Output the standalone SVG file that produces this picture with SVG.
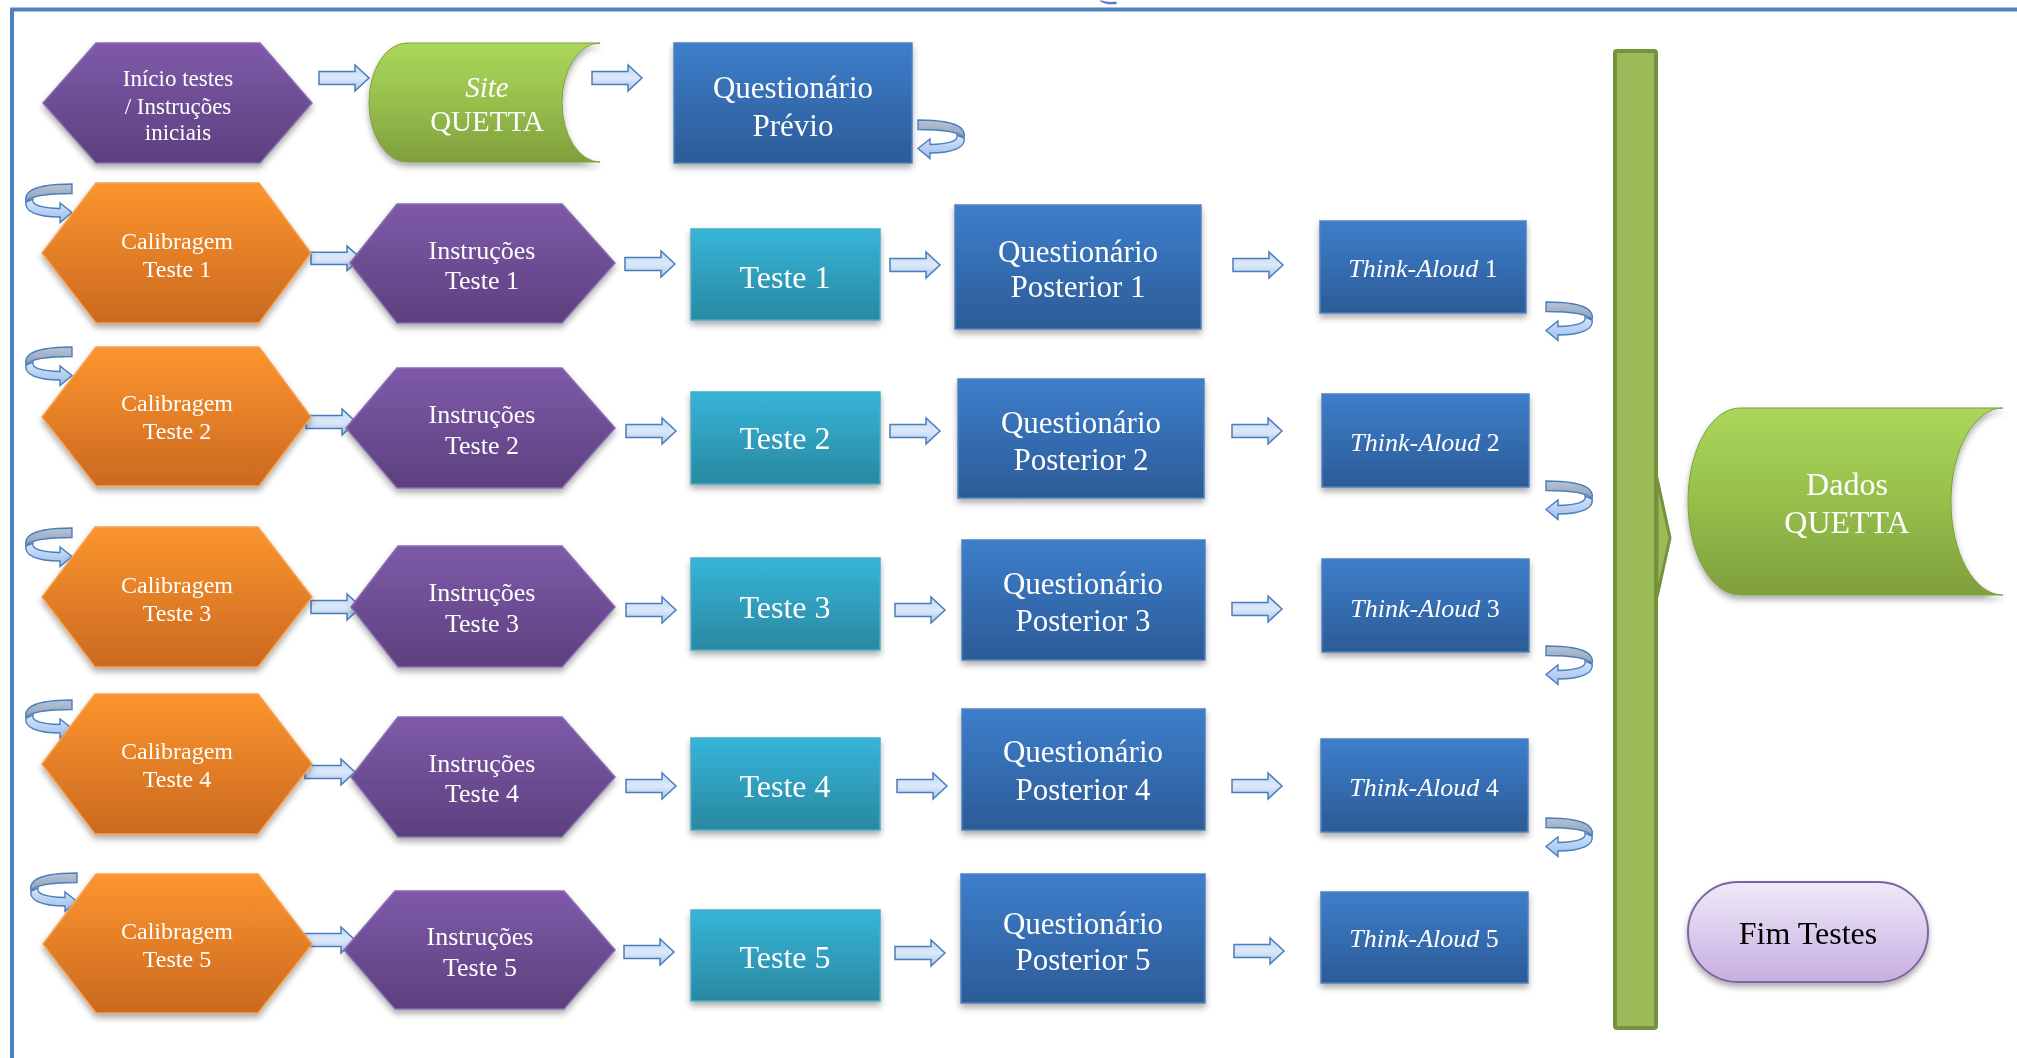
<svg xmlns="http://www.w3.org/2000/svg" width="2017" height="1058" viewBox="0 0 2017 1058">
  <style>
    .lbl { font-family: "Liberation Serif", "Times New Roman", serif; fill: #ffffff; text-anchor: middle; }
    .dark { fill: #000000; }
    .it { font-style: italic; }
    .s23 { font-size: 23px; }
    .s24 { font-size: 24px; }
    .s26 { font-size: 26px; }
    .s29 { font-size: 29px; }
    .s31 { font-size: 31px; }
    .s32 { font-size: 32px; }
    .hexP { fill: url(#gPurple); stroke: #8A6DB0; stroke-width: 1.5; }
    .hexO { fill: url(#gOrange); stroke: #F8A04E; stroke-width: 1.5; }
    .boxT { fill: url(#gTeal); stroke: #4BACC6; stroke-width: 1.5; }
    .boxB { fill: url(#gBlue); stroke: #4F81BD; stroke-width: 1.5; }
    .store { fill: url(#gGreen); stroke: #7FA03F; stroke-width: 1; }
    .arrow { fill: url(#gArrow); stroke: #4A7EBB; stroke-width: 1.5; stroke-linejoin: miter; }
    .back { fill: url(#gBack); stroke: #4A7EBB; stroke-width: 1.4; }
    .front { fill: url(#gFront); stroke: #4A7EBB; stroke-width: 1.4; }
    .frame { stroke: #4F81BD; stroke-width: 4; fill: none; }
    .node { filter: url(#shadow); }
  </style>
  <defs>
    <linearGradient id="gPurple" x1="0" y1="0" x2="0" y2="1">
      <stop offset="0" stop-color="#7E5AA9"/>
      <stop offset="1" stop-color="#5C407E"/>
    </linearGradient>
    <linearGradient id="gOrange" x1="0" y1="0" x2="0" y2="1">
      <stop offset="0" stop-color="#FC952E"/>
      <stop offset="1" stop-color="#CB6920"/>
    </linearGradient>
    <linearGradient id="gTeal" x1="0" y1="0" x2="0" y2="1">
      <stop offset="0" stop-color="#36B5D8"/>
      <stop offset="1" stop-color="#2988A1"/>
    </linearGradient>
    <linearGradient id="gBlue" x1="0" y1="0" x2="0" y2="1">
      <stop offset="0" stop-color="#3D7ECB"/>
      <stop offset="1" stop-color="#2C5B97"/>
    </linearGradient>
    <linearGradient id="gGreen" x1="0" y1="0" x2="0" y2="1">
      <stop offset="0" stop-color="#AAD75B"/>
      <stop offset="0.5" stop-color="#96BF4B"/>
      <stop offset="1" stop-color="#7F9F3D"/>
    </linearGradient>
    <linearGradient id="gLilac" x1="0" y1="0" x2="0" y2="1">
      <stop offset="0" stop-color="#F0EAF8"/>
      <stop offset="1" stop-color="#C6AFE0"/>
    </linearGradient>
    <linearGradient id="gArrow" x1="0" y1="0" x2="0" y2="1">
      <stop offset="0" stop-color="#C3D7F3"/>
      <stop offset="0.5" stop-color="#DDE9FA"/>
      <stop offset="1" stop-color="#A8C5EE"/>
    </linearGradient>
    <linearGradient id="gBack" x1="0" y1="0" x2="0" y2="1">
      <stop offset="0" stop-color="#B8C3D4"/>
      <stop offset="1" stop-color="#8C9FBC"/>
    </linearGradient>
    <linearGradient id="gFront" x1="0" y1="0" x2="0" y2="1">
      <stop offset="0" stop-color="#D8E6F9"/>
      <stop offset="1" stop-color="#9BBDED"/>
    </linearGradient>
    <filter id="shadow" x="-10%" y="-10%" width="125%" height="135%">
      <feDropShadow dx="0" dy="4" stdDeviation="3" flood-color="#000000" flood-opacity="0.33"/>
    </filter>
    <!-- straight block arrow, 50 x 26 -->
    <path id="blockArrow" class="arrow" d="M0,6.5 H36 V0 L50,13 L36,26 V19.5 H0 Z"/>
    <!-- curved u-turn arrow, 46 x 39, head pointing left -->
    <g id="uturn">
      <path class="back" d="M0,0 C16,0 36,2 43,8 C46,11 47,14 46,18 C43,13 30,9.5 0,9.5 Z"/>
      <path class="front" d="M39,15 C41,21 30,24 12,24.5 L12,19 L0,28.5 L12,38.5 L12,33 C36,33 48,27 46,18 Z"/>
    </g>
  </defs>

  <rect width="2017" height="1058" fill="#ffffff"/>

  <!-- page frame -->
  <path class="frame" d="M12,1058 V9.5 H2017"/>
  <path d="M1099,0.5 C1104,4 1110,5 1117,4 L1116,1.5 C1110,2.5 1105,1.5 1102,0.5 Z" fill="#4F81BD"/>

  <!-- collector bar -->
  <g id="bar">
    <path d="M1657,478 L1670,538 L1657,597 Z" fill="#9BBB59" stroke="#76923C" stroke-width="3"/>
    <rect x="1615" y="51" width="41" height="977" rx="2" fill="#9BBB59" stroke="#76923C" stroke-width="4"/>
  </g>

  <g id="connectors">
    <!-- row 0 -->
    <use href="#blockArrow" transform="translate(319,65)"/>
    <use href="#blockArrow" transform="translate(592,65)"/>
    <use href="#uturn" transform="translate(918,120)"/>
    <!-- row 1 -->
    <use href="#uturn" transform="translate(72,184) scale(-1,1)"/>
    <use href="#blockArrow" transform="translate(311,246) scale(1,0.95)"/>
    <use href="#blockArrow" transform="translate(625,251)"/>
    <use href="#blockArrow" transform="translate(890,252)"/>
    <use href="#blockArrow" transform="translate(1233,252)"/>
    <use href="#uturn" transform="translate(1546,302)"/>
    <!-- row 2 -->
    <use href="#uturn" transform="translate(72,347) scale(-1,1)"/>
    <use href="#blockArrow" transform="translate(306,409)"/>
    <use href="#blockArrow" transform="translate(626,418)"/>
    <use href="#blockArrow" transform="translate(890,418)"/>
    <use href="#blockArrow" transform="translate(1232,418)"/>
    <use href="#uturn" transform="translate(1546,481)"/>
    <!-- row 3 -->
    <use href="#uturn" transform="translate(72,528) scale(-1,1)"/>
    <use href="#blockArrow" transform="translate(311,594)"/>
    <use href="#blockArrow" transform="translate(626,597)"/>
    <use href="#blockArrow" transform="translate(895,597)"/>
    <use href="#blockArrow" transform="translate(1232,596)"/>
    <use href="#uturn" transform="translate(1546,646)"/>
    <!-- row 4 -->
    <use href="#uturn" transform="translate(72,700) scale(-1,1)"/>
    <use href="#blockArrow" transform="translate(305,759)"/>
    <use href="#blockArrow" transform="translate(626,773)"/>
    <use href="#blockArrow" transform="translate(897,773)"/>
    <use href="#blockArrow" transform="translate(1232,773)"/>
    <use href="#uturn" transform="translate(1546,818)"/>
    <!-- row 5 -->
    <use href="#uturn" transform="translate(77,873) scale(-1,1)"/>
    <use href="#blockArrow" transform="translate(305,927)"/>
    <use href="#blockArrow" transform="translate(624,939)"/>
    <use href="#blockArrow" transform="translate(895,940)"/>
    <use href="#blockArrow" transform="translate(1234,938)"/>
  </g>

  <!-- row 0 -->
  <g id="inicio" class="node">
    <polygon class="hexP" points="43,103 96,43 260,43 312,103 260,163 96,163"/>
    <text class="lbl s23" x="178" y="86">Início testes</text>
    <text class="lbl s23" x="178" y="114">/ Instruções</text>
    <text class="lbl s23" x="178" y="140">iniciais</text>
  </g>
  <g id="site-quetta" class="node">
    <path class="store" d="M407,43 H600 A38,59.5 0 0 0 600,162 H407 A38,59.5 0 0 1 407,43 Z"/>
    <text class="lbl s29 it" x="487" y="97">Site</text>
    <text class="lbl s29" x="487" y="131">QUETTA</text>
  </g>
  <g id="questionario-previo" class="node">
    <rect class="boxB" x="674" y="43" width="238" height="120"/>
    <text class="lbl s31" x="793" y="98">Questionário</text>
    <text class="lbl s31" x="793" y="136">Prévio</text>
  </g>

  <!-- row 1 -->
  <g id="calibragem-1" class="node">
    <polygon class="hexO" points="42,253 96,183 259,183 311,253 259,323 96,323"/>
    <text class="lbl s24" x="177" y="249">Calibragem</text>
    <text class="lbl s24" x="177" y="277">Teste 1</text>
  </g>
  <g id="instrucoes-1" class="node">
    <polygon class="hexP" points="350,263 397,204 562,204 615,263 562,323 397,323"/>
    <text class="lbl s26" x="482" y="259">Instruções</text>
    <text class="lbl s26" x="482" y="289">Teste 1</text>
  </g>
  <g id="teste-1" class="node">
    <rect class="boxT" x="691" y="229" width="189" height="91"/>
    <text class="lbl s32" x="785" y="288">Teste 1</text>
  </g>
  <g id="posterior-1" class="node">
    <rect class="boxB" x="955" y="205" width="246" height="124"/>
    <text class="lbl s31" x="1078" y="262">Questionário</text>
    <text class="lbl s31" x="1078" y="297">Posterior 1</text>
  </g>
  <g id="think-aloud-1" class="node">
    <rect class="boxB" x="1320" y="221" width="206" height="92"/>
    <text class="lbl s26" x="1423" y="277"><tspan class="it">Think-Aloud</tspan> 1</text>
  </g>

  <!-- row 2 -->
  <g id="calibragem-2" class="node">
    <polygon class="hexO" points="42,417 96,347 259,347 311,417 259,486 96,486"/>
    <text class="lbl s24" x="177" y="411">Calibragem</text>
    <text class="lbl s24" x="177" y="439">Teste 2</text>
  </g>
  <g id="instrucoes-2" class="node">
    <polygon class="hexP" points="346,428 397,368 562,368 615,428 562,488 397,488"/>
    <text class="lbl s26" x="482" y="423">Instruções</text>
    <text class="lbl s26" x="482" y="454">Teste 2</text>
  </g>
  <g id="teste-2" class="node">
    <rect class="boxT" x="691" y="392" width="189" height="92"/>
    <text class="lbl s32" x="785" y="449">Teste 2</text>
  </g>
  <g id="posterior-2" class="node">
    <rect class="boxB" x="958" y="379" width="246" height="119"/>
    <text class="lbl s31" x="1081" y="433">Questionário</text>
    <text class="lbl s31" x="1081" y="470">Posterior 2</text>
  </g>
  <g id="think-aloud-2" class="node">
    <rect class="boxB" x="1322" y="394" width="207" height="93"/>
    <text class="lbl s26" x="1425" y="451"><tspan class="it">Think-Aloud</tspan> 2</text>
  </g>

  <!-- row 3 -->
  <g id="calibragem-3" class="node">
    <polygon class="hexO" points="42,597 95,527 258,527 312,597 258,667 95,667"/>
    <text class="lbl s24" x="177" y="593">Calibragem</text>
    <text class="lbl s24" x="177" y="621">Teste 3</text>
  </g>
  <g id="instrucoes-3" class="node">
    <polygon class="hexP" points="351,607 398,546 562,546 615,607 562,667 398,667"/>
    <text class="lbl s26" x="482" y="601">Instruções</text>
    <text class="lbl s26" x="482" y="632">Teste 3</text>
  </g>
  <g id="teste-3" class="node">
    <rect class="boxT" x="691" y="558" width="189" height="92"/>
    <text class="lbl s32" x="785" y="618">Teste 3</text>
  </g>
  <g id="posterior-3" class="node">
    <rect class="boxB" x="962" y="540" width="243" height="120"/>
    <text class="lbl s31" x="1083" y="594">Questionário</text>
    <text class="lbl s31" x="1083" y="631">Posterior 3</text>
  </g>
  <g id="think-aloud-3" class="node">
    <rect class="boxB" x="1322" y="559" width="207" height="93"/>
    <text class="lbl s26" x="1425" y="617"><tspan class="it">Think-Aloud</tspan> 3</text>
  </g>

  <!-- row 4 -->
  <g id="calibragem-4" class="node">
    <polygon class="hexO" points="42,764 95,694 258,694 312,764 258,834 95,834"/>
    <text class="lbl s24" x="177" y="759">Calibragem</text>
    <text class="lbl s24" x="177" y="787">Teste 4</text>
  </g>
  <g id="instrucoes-4" class="node">
    <polygon class="hexP" points="351,777 398,717 562,717 615,777 562,837 398,837"/>
    <text class="lbl s26" x="482" y="772">Instruções</text>
    <text class="lbl s26" x="482" y="802">Teste 4</text>
  </g>
  <g id="teste-4" class="node">
    <rect class="boxT" x="691" y="738" width="189" height="92"/>
    <text class="lbl s32" x="785" y="797">Teste 4</text>
  </g>
  <g id="posterior-4" class="node">
    <rect class="boxB" x="962" y="709" width="243" height="121"/>
    <text class="lbl s31" x="1083" y="762">Questionário</text>
    <text class="lbl s31" x="1083" y="800">Posterior 4</text>
  </g>
  <g id="think-aloud-4" class="node">
    <rect class="boxB" x="1321" y="739" width="207" height="93"/>
    <text class="lbl s26" x="1424" y="796"><tspan class="it">Think-Aloud</tspan> 4</text>
  </g>

  <!-- row 5 -->
  <g id="calibragem-5" class="node">
    <polygon class="hexO" points="43,944 96,874 258,874 312,944 258,1013 96,1013"/>
    <text class="lbl s24" x="177" y="939">Calibragem</text>
    <text class="lbl s24" x="177" y="967">Teste 5</text>
  </g>
  <g id="instrucoes-5" class="node">
    <polygon class="hexP" points="344,950 395,891 564,891 615,950 564,1009 395,1009"/>
    <text class="lbl s26" x="480" y="945">Instruções</text>
    <text class="lbl s26" x="480" y="976">Teste 5</text>
  </g>
  <g id="teste-5" class="node">
    <rect class="boxT" x="691" y="910" width="189" height="91"/>
    <text class="lbl s32" x="785" y="968">Teste 5</text>
  </g>
  <g id="posterior-5" class="node">
    <rect class="boxB" x="961" y="874" width="244" height="129"/>
    <text class="lbl s31" x="1083" y="934">Questionário</text>
    <text class="lbl s31" x="1083" y="970">Posterior 5</text>
  </g>
  <g id="think-aloud-5" class="node">
    <rect class="boxB" x="1321" y="892" width="207" height="91"/>
    <text class="lbl s26" x="1424" y="947"><tspan class="it">Think-Aloud</tspan> 5</text>
  </g>

  <!-- outputs -->
  <g id="dados-quetta" class="node">
    <path class="store" d="M1740,408 H2003 A52,93.5 0 0 0 2003,595 H1740 A52,93.5 0 0 1 1740,408 Z"/>
    <text class="lbl s32" x="1847" y="495">Dados</text>
    <text class="lbl s32" x="1847" y="533">QUETTA</text>
  </g>
  <g id="fim-testes" class="node">
    <rect x="1688" y="882" width="240" height="100" rx="50" fill="url(#gLilac)" stroke="#8064A2" stroke-width="2"/>
    <text class="lbl s32 dark" x="1808" y="944">Fim Testes</text>
  </g>
</svg>
